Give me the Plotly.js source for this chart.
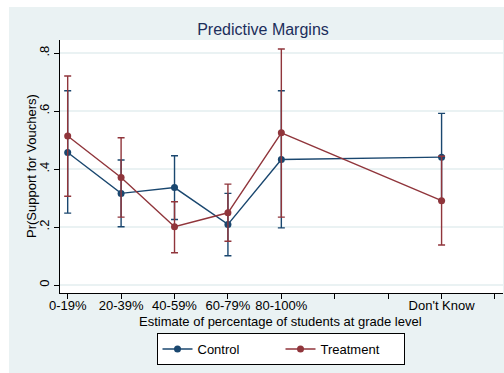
<!DOCTYPE html>
<html>
<head>
<meta charset="utf-8">
<script src="https://cdn.plot.ly/plotly-3.0.1.min.js"></script>
<style>html,body{margin:0;padding:0;background:#fff}#chart{width:504px;height:373px}</style>
</head>
<body>
<div id="chart"></div>
<script>
// category positions and labels
var xPositions = [1, 2, 3, 4, 5, 8];
var tickPositions = [1, 2, 3, 4, 5, 6, 7, 8, 9];
var tickLabels = ["0-19%", "20-39%", "40-59%", "60-79%", "80-100%", "", "", "Don't Know", ""];

// Control series
var controlMargin = [0.457, 0.316, 0.336, 0.209, 0.433, 0.441];
var controlUpper  = [0.670, 0.431, 0.446, 0.316, 0.670, 0.592];
var controlLower  = [0.248, 0.201, 0.226, 0.101, 0.197, 0.290];

// Treatment series
var treatMargin = [0.514, 0.371, 0.201, 0.249, 0.525, 0.291];
var treatUpper  = [0.721, 0.508, 0.287, 0.348, 0.814, 0.444];
var treatLower  = [0.306, 0.234, 0.111, 0.151, 0.234, 0.138];

var yTickVals = [0, 0.2, 0.4, 0.6, 0.8];
var yTickText = ["0", ".2", ".4", ".6", ".8"];

var titleText = 'Predictive Margins';
var xTitleText = 'Estimate of percentage of students at grade level';
var yTitleText = 'Pr(Support for Vouchers)';

function diff(a, b) { return a.map(function (v, i) { return +(v - b[i]).toFixed(4); }); }

function series(name, color, m, up, lo) {
  return {
    type: 'scatter', mode: 'lines+markers', name: name,
    x: xPositions, y: m,
    line: {color: color, width: 1.4},
    marker: {color: color, size: 7, symbol: 'circle'},
    error_y: {type: 'data', symmetric: false, array: diff(up, m), arrayminus: diff(m, lo),
              color: color, thickness: 1.4, width: 3.5}
  };
}

var data = [
  series('Control', '#1a476f', controlMargin, controlUpper, controlLower),
  series('Treatment', '#90353b', treatMargin, treatUpper, treatLower)
];

var W = 504, H = 373, L = 60, R = 1, T = 40, B = 80;
var pw = W - L - R, ph = H - T - B;
function px2x(p) { return (p - L) / pw; }
function px2y(p) { return (H - B - p) / ph; }

var fontFam = '"Liberation Sans", Arial, sans-serif';

var layout = {
  width: W, height: H,
  margin: {l: L, r: R, t: T, b: B, pad: 0},
  paper_bgcolor: '#eaf2f3',
  plot_bgcolor: '#ffffff',
  font: {family: fontFam, size: 13, color: '#000'},
  showlegend: true,
  title: {text: titleText, font: {family: fontFam, size: 16, color: '#1c2e5b'},
          x: 263 / W, xref: 'container', xanchor: 'center',
          y: 1 - 29.5 / H, yref: 'container', yanchor: 'middle'},
  xaxis: {
    range: [0.856, 9.15], tickmode: 'array', tickvals: tickPositions, ticktext: tickLabels,
    showgrid: false, zeroline: false, showline: true, linecolor: '#000', linewidth: 1,
    ticks: 'outside', ticklen: 5, tickwidth: 1, tickcolor: '#000',
    tickfont: {size: 13, color: '#000'}, ticklabelstandoff: -5,
    automargin: false
  },
  yaxis: {
    range: [-0.0276, 0.845], tickmode: 'array', tickvals: yTickVals, ticktext: yTickText,
    tickangle: -90,
    showgrid: true, gridcolor: '#eaf2f3', gridwidth: 1.5, zeroline: false,
    showline: true, linecolor: '#000', linewidth: 1,
    ticks: 'outside', ticklen: 5, tickwidth: 1, tickcolor: '#000',
    tickfont: {size: 13, color: '#000'},
    automargin: false
  },
  annotations: [
    {text: xTitleText, xref: 'paper', yref: 'paper', x: px2x(280.5), y: px2y(321),
     xanchor: 'center', yanchor: 'middle', showarrow: false, font: {size: 13, color: '#000'}},
    {text: yTitleText, xref: 'paper', yref: 'paper', x: px2x(31), y: px2y(166),
     xanchor: 'center', yanchor: 'middle', textangle: -90, showarrow: false, font: {size: 13, color: '#000'}}
  ],
  legend: {
    orientation: 'h', x: px2x(280.5), xanchor: 'center', y: px2y(333), yanchor: 'top',
    bgcolor: '#fff', bordercolor: '#000', borderwidth: 1, entrywidth: 78,
    font: {size: 13, color: '#000'}, traceorder: 'normal'
  },
  shapes: [
    {type: 'rect', xref: 'paper', yref: 'paper', x0: px2x(0), x1: px2x(W), y0: px2y(7), y1: px2y(0),
     fillcolor: '#fff', line: {width: 0}, layer: 'below'},
    {type: 'rect', xref: 'paper', yref: 'paper', x0: px2x(0), x1: px2x(9), y0: px2y(H), y1: px2y(0),
     fillcolor: '#fff', line: {width: 0}, layer: 'below'}
  ]
};

Plotly.newPlot('chart', data, layout, {displayModeBar: false, staticPlot: true});
</script>
</body>
</html>
